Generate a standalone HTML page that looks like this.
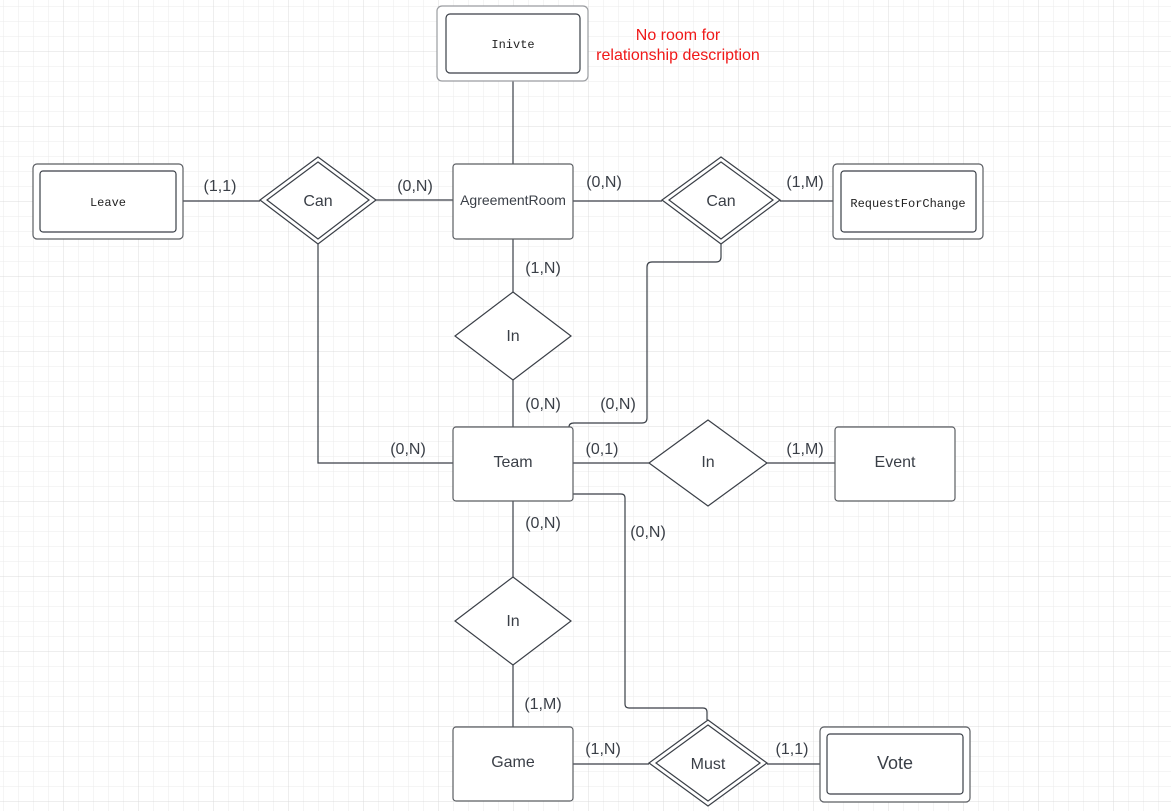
<!DOCTYPE html>
<html><head><meta charset="utf-8"><style>
html,body{margin:0;padding:0;background:#fff;}
svg{display:block;}
text{font-family:"Liberation Sans",Arial,sans-serif;fill:#3a3f47;}
.m{font-family:"Liberation Mono",monospace;font-size:12px;fill:#222;}
</style></head><body>
<svg width="1171" height="811" viewBox="0 0 1171 811" xmlns="http://www.w3.org/2000/svg">
<defs>
<pattern id="minor" width="15" height="15" patternUnits="userSpaceOnUse" x="3" y="6">
<path d="M0 0H15M0 0V15" stroke="#ebebeb" stroke-width="1" fill="none"/>
</pattern>
<pattern id="major" width="75" height="75" patternUnits="userSpaceOnUse" x="63" y="51">
<path d="M0 0H75M0 0V75" stroke="#dcdcdc" stroke-width="1" fill="none"/>
</pattern>
</defs>
<rect width="1171" height="811" fill="url(#minor)"/>
<rect width="1171" height="811" fill="url(#major)"/>
<g stroke="#3a3f47" stroke-width="1.2" fill="none">
<path d="M513 81V164"/>
<path d="M183 201H260"/>
<path d="M376 200H453"/>
<path d="M573 201H662"/>
<path d="M780 201H833"/>
<path d="M513 239V292"/>
<path d="M513 380V427"/>
<path d="M318 244V463H453"/>
<path d="M721 244V257Q721 262 716 262H652Q647 262 647 267V418Q647 423 642 423H574Q569 423 569 427"/>
<path d="M573 463H649"/>
<path d="M767 463H835"/>
<path d="M513 501V577"/>
<path d="M513 665V727"/>
<path d="M573 764H649"/>
<path d="M767 764H820"/>
<path d="M573 494H621Q625 494 625 498V704Q625 708 629 708H703Q707 708 707 712V720"/>
</g>
<g fill="#fff" stroke="#3a3f47" stroke-width="1.2">
<rect x="437" y="6" width="151" height="75" rx="5" stroke="#9a9ca0"/>
<rect x="446" y="14" width="134" height="59" rx="4"/>
<rect x="33" y="164" width="150" height="75" rx="4" stroke="#5a5d62"/>
<rect x="40" y="171" width="136" height="61" rx="3"/>
<rect x="453" y="164" width="120" height="75" rx="3" stroke="#5a5d62"/>
<rect x="833" y="164" width="150" height="75" rx="4" stroke="#5a5d62"/>
<rect x="841" y="171" width="135" height="61" rx="3"/>
<rect x="453" y="427" width="120" height="74" rx="3" stroke="#5a5d62"/>
<rect x="835" y="427" width="120" height="74" rx="3" stroke="#5a5d62"/>
<rect x="453" y="727" width="120" height="74" rx="3" stroke="#5a5d62"/>
<rect x="820" y="727" width="150" height="75" rx="4" stroke="#5a5d62"/>
<rect x="827" y="734" width="136" height="60" rx="3"/>
<polygon points="318,157 376,200 318,244 260,200"/>
<polygon points="318,162 369,200 318,239 267,200"/>
<polygon points="721,157 780,200 721,244 662,200"/>
<polygon points="721,162 773,200 721,239 669,200"/>
<polygon points="513,292 571,336 513,380 455,336"/>
<polygon points="708,420 767,463 708,506 649,463"/>
<polygon points="513,577 571,621 513,665 455,621"/>
<polygon points="708,720 767,763 708,806 649,763"/>
<polygon points="708,725 760,763 708,801 656,763"/>
</g>
<text class="m" x="513" y="48" text-anchor="middle">Inivte</text>
<text class="m" x="108" y="206" text-anchor="middle">Leave</text>
<text class="m" x="908" y="207" text-anchor="middle">RequestForChange</text>
<g font-size="16" text-anchor="middle">
<text x="318" y="206">Can</text>
<text x="721" y="206">Can</text>
<text x="513" y="205" font-size="14">AgreementRoom</text>
<text x="513" y="341">In</text>
<text x="513" y="467">Team</text>
<text x="708" y="467">In</text>
<text x="895" y="467">Event</text>
<text x="513" y="626">In</text>
<text x="513" y="767">Game</text>
<text x="708" y="769">Must</text>
<text x="895" y="769" font-size="18">Vote</text>
<text x="220" y="191">(1,1)</text>
<text x="415" y="191">(0,N)</text>
<text x="604" y="187">(0,N)</text>
<text x="805" y="187">(1,M)</text>
<text x="543" y="273">(1,N)</text>
<text x="543" y="409">(0,N)</text>
<text x="618" y="409">(0,N)</text>
<text x="408" y="454">(0,N)</text>
<text x="602" y="454">(0,1)</text>
<text x="805" y="454">(1,M)</text>
<text x="543" y="528">(0,N)</text>
<text x="648" y="537">(0,N)</text>
<text x="543" y="709">(1,M)</text>
<text x="603" y="754">(1,N)</text>
<text x="792" y="754">(1,1)</text>
<text x="678" y="40" style="fill:#f01818">No room for</text>
<text x="678" y="60" style="fill:#f01818">relationship description</text>
</g>
</svg>
</body></html>
